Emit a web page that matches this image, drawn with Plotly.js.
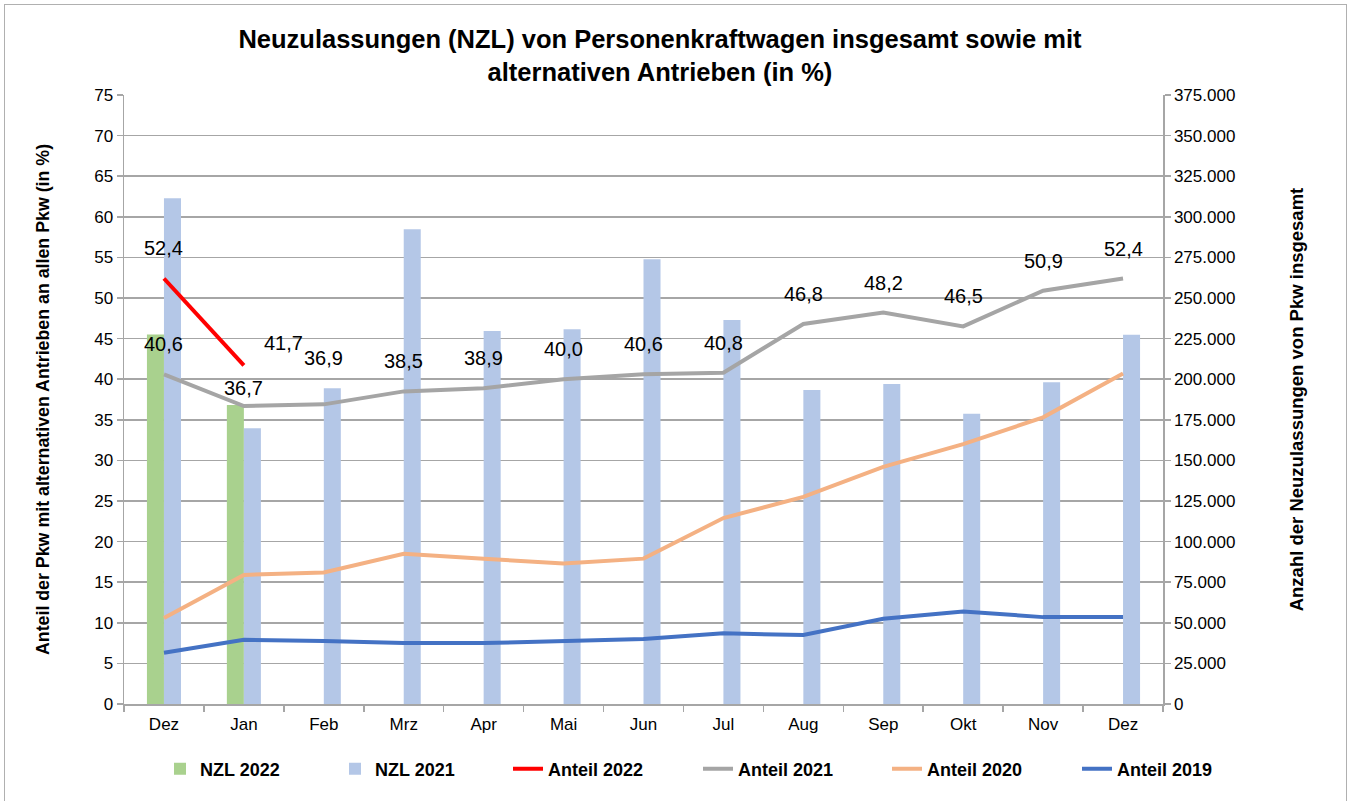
<!DOCTYPE html>
<html>
<head>
<meta charset="utf-8">
<script src="https://cdn.plot.ly/plotly-3.0.1.min.js"></script>
<style>
  html, body { margin: 0; padding: 0; background: #ffffff; }
  #chart { width: 1351px; height: 801px; position: absolute; left: 0; top: 0; }
  #frame { position: absolute; left: 4px; top: 4px; width: 1343px; height: 810px; box-sizing: border-box;
           border: 1.5px solid #b0b0b0; pointer-events: none; }
</style>
</head>
<body>
<div id="chart"></div>
<div id="frame"></div>
<script>
// ---- data ----
const categories = ['Dez','Jan','Feb','Mrz','Apr','Mai','Jun','Jul','Aug','Sep','Okt','Nov','Dez'];
const nzl2022    = [227600, 184100, null, null, null, null, null, null, null, null, null, null, null];
const nzl2021    = [311400, 169800, 194400, 292300, 229700, 230700, 273800, 236500, 193300, 197000, 178800, 198100, 227400];
const anteil2022 = [52.4, 41.7, null, null, null, null, null, null, null, null, null, null, null];
const anteil2021 = [40.6, 36.7, 36.9, 38.5, 38.9, 40.0, 40.6, 40.8, 46.8, 48.2, 46.5, 50.9, 52.4];
const anteil2020 = [10.6, 15.9, 16.2, 18.5, 17.9, 17.3, 17.9, 22.9, 25.5, 29.2, 32.0, 35.3, 40.7];
const anteil2019 = [6.3, 7.9, 7.75, 7.5, 7.5, 7.7, 8.0, 8.7, 8.5, 10.5, 11.4, 10.7, 10.7];
const seriesNames = ['NZL 2022', 'NZL 2021', 'Anteil 2022', 'Anteil 2021', 'Anteil 2020', 'Anteil 2019'];

// unique category keys (duplicate "Dez" gets an invisible zero-width suffix)
const xs = categories.map((c, i) => c + '\u200B'.repeat(categories.slice(0, i).filter(d => d === c).length));

const FONT = 'Liberation Sans, Arial, Helvetica, sans-serif';
const fmt = v => v.toFixed(1).replace('.', ',');
const legendIds = ['legend', 'legend2', 'legend3', 'legend4', 'legend5', 'legend6'];
const legendX = [160, 335, 508, 698, 887, 1077];   // px in container, left edge of each legend entry

const traces = [
  { type: 'bar', name: seriesNames[0], x: xs, y: nzl2022, yaxis: 'y', marker: { color: '#a9d18e' } },
  { type: 'bar', name: seriesNames[1], x: xs, y: nzl2021, yaxis: 'y', marker: { color: '#b4c7e7' } },
  { type: 'scatter', mode: 'lines', name: seriesNames[2], x: xs, y: anteil2022, yaxis: 'y2', line: { color: '#ff0000', width: 4 } },
  { type: 'scatter', mode: 'lines', name: seriesNames[3], x: xs, y: anteil2021, yaxis: 'y2', line: { color: '#a5a5a5', width: 4 } },
  { type: 'scatter', mode: 'lines', name: seriesNames[4], x: xs, y: anteil2020, yaxis: 'y2', line: { color: '#f4b183', width: 4 } },
  { type: 'scatter', mode: 'lines', name: seriesNames[5], x: xs, y: anteil2019, yaxis: 'y2', line: { color: '#4472c4', width: 4 } }
];
traces.forEach((t, i) => { t.legend = legendIds[i]; t.showlegend = true; });

// data labels
const annotations = [];
anteil2021.forEach((v, i) => {
  let ys = 30;
  if (i === 1) ys = 18;
  if (i === 2) ys = 46;
  annotations.push({ x: xs[i], y: v, xref: 'x', yref: 'y2', text: fmt(v), showarrow: false,
                     yshift: ys, font: { family: FONT, size: 20, color: '#000' } });
});
anteil2022.forEach((v, i) => {
  if (v === null) return;
  annotations.push({ x: xs[i], y: v, xref: 'x', yref: 'y2', text: fmt(v), showarrow: false,
                     yshift: i === 0 ? 31 : 22, xshift: i === 0 ? 0 : 40,
                     font: { family: FONT, size: 20, color: '#000' } });
});

const layout = {
  width: 1351, height: 801,
  paper_bgcolor: '#ffffff', plot_bgcolor: '#ffffff',
  separators: ',.',
  font: { family: FONT, size: 17, color: '#000' },
  margin: { l: 124, r: 188, t: 95, b: 97 },
  title: {
    text: '<b>Neuzulassungen (NZL) von Personenkraftwagen insgesamt sowie mit<br>alternativen Antrieben (in %)</b>',
    font: { family: FONT, size: 25.5, color: '#000' },
    xref: 'container', x: 0.4885, xanchor: 'center',
    yref: 'container', y: 0.94, yanchor: 'top'
  },
  barmode: 'group', bargap: 0.574, bargroupgap: 0,
  showlegend: true,
  xaxis: {
    type: 'category', range: [-0.5, 12.5], tickson: 'boundaries',
    ticks: 'outside', ticklen: 6, tickwidth: 1.5, tickcolor: '#a6a6a6',
    showline: true, linecolor: '#a6a6a6', linewidth: 1.5, showgrid: false,
    ticklabelstandoff: 4,
    tickfont: { family: FONT, size: 17, color: '#000' }, fixedrange: true
  },
  yaxis: {
    side: 'right', range: [0, 375000], dtick: 25000, tick0: 0, tickformat: ',d',
    ticks: 'outside', ticklen: 6, tickwidth: 1.5, tickcolor: '#a6a6a6',
    showline: true, linecolor: '#a6a6a6', linewidth: 1.5,
    showgrid: true, gridcolor: '#a6a6a6', gridwidth: 1.5, zeroline: false,
    tickfont: { family: FONT, size: 17, color: '#000' },
    title: { text: '<b>Anzahl der Neuzulassungen von Pkw insgesamt</b>', font: { family: FONT, size: 18.5, color: '#000' }, standoff: 55 }
  },
  yaxis2: {
    overlaying: 'y', side: 'left', range: [0, 75], dtick: 5, tick0: 0,
    ticks: 'outside', ticklen: 6, tickwidth: 1.5, tickcolor: '#a6a6a6',
    showline: true, linecolor: '#a6a6a6', linewidth: 1.5, showgrid: false, zeroline: false,
    tickfont: { family: FONT, size: 17, color: '#000' },
    title: { text: '<b>Anteil der Pkw mit alternativen Antrieben an allen Pkw (in %)</b>', font: { family: FONT, size: 17.8, color: '#000' }, standoff: 40 }
  },
  annotations: annotations
};

legendIds.forEach((id, i) => {
  layout[id] = {
    orientation: 'h', xref: 'container', yref: 'container',
    x: legendX[i] / 1351, xanchor: 'left', y: 0.04, yanchor: 'middle',
    bgcolor: 'rgba(0,0,0,0)',
    font: { family: FONT, size: 18, color: '#000', weight: 'bold' }
  };
});

Plotly.newPlot('chart', traces, layout, { displayModeBar: false, staticPlot: true });
</script>
</body>
</html>
